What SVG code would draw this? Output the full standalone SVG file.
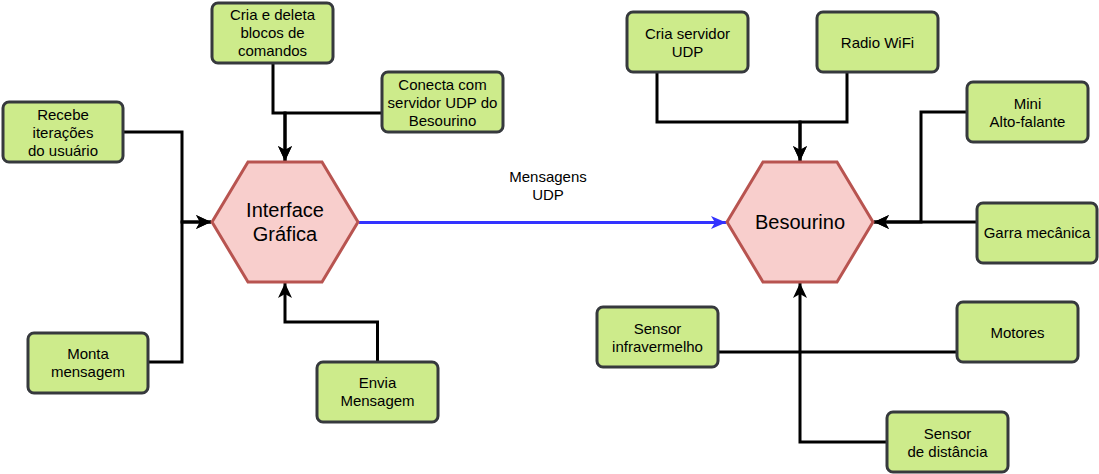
<svg xmlns="http://www.w3.org/2000/svg" width="1099" height="474" viewBox="0 0 1099 474">
<style>
.box{fill:#cdeb8b;stroke:#36393d;stroke-width:3}
.hex{fill:#f8cecc;stroke:#b85450;stroke-width:3}
.t{font-family:"Liberation Sans",Arial,sans-serif;font-size:15px;fill:#000;text-anchor:middle}
.ht{font-family:"Liberation Sans",Arial,sans-serif;font-size:20px;fill:#000;text-anchor:middle}
.c{fill:none;stroke:#000;stroke-width:3}
.cb{fill:none;stroke:#3333ff;stroke-width:3}
</style>
<defs>
<marker id="ab" markerUnits="userSpaceOnUse" markerWidth="16" markerHeight="16" viewBox="0 0 16 16" refX="15" refY="8" orient="auto">
<path d="M0,1 L15,8 L0,15 L4,8 Z" fill="#000"/>
</marker>
<marker id="abl" markerUnits="userSpaceOnUse" markerWidth="16" markerHeight="16" viewBox="0 0 16 16" refX="15" refY="8" orient="auto">
<path d="M0,1.5 L15,8 L0,14.5 L4,8 Z" fill="#3333ff"/>
</marker>
</defs>
<g id="connectors">
<path class="c" d="M273,63 V113 H285 V161" marker-end="url(#ab)"/>
<path class="c" d="M382,113 H285 V161" marker-end="url(#ab)"/>
<path class="c" d="M123,132 H182 V222 H211" marker-end="url(#ab)"/>
<path class="c" d="M148,362 H182 V222 H211" marker-end="url(#ab)"/>
<path class="c" d="M377.5,362 V322 H285 V283" marker-end="url(#ab)"/>
<path class="cb" d="M359,222.5 H726" marker-end="url(#abl)"/>
<path class="c" d="M657,73 V122 H800 V161" marker-end="url(#ab)"/>
<path class="c" d="M847,73 V122 H800 V161" marker-end="url(#ab)"/>
<path class="c" d="M967,112 H921 V222 H874" marker-end="url(#ab)"/>
<path class="c" d="M977,222 H874" marker-end="url(#ab)"/>
<path class="c" d="M887,442 H800 V283" marker-end="url(#ab)"/>
<path class="c" d="M718,352 H957"/>
<text class="t" x="548" y="182">Mensagens</text>
<text class="t" x="548" y="200">UDP</text>
</g>
<g id="interface">
<polygon class="hex" points="212,222 248,162 322,162 358,222 322,282 248,282"/>
<text class="ht" x="285" y="217">Interface</text>
<text class="ht" x="285" y="241">Gráfica</text>
</g>
<g id="besourino">
<polygon class="hex" points="727,222 763,162 837,162 873,222 837,282 763,282"/>
<text class="ht" x="800" y="229">Besourino</text>
</g>
<g id="cria-deleta">
<rect class="box" x="212" y="3" width="121" height="60" rx="6"/>
<text class="t" x="272.5" y="20">Cria e deleta</text>
<text class="t" x="272.5" y="38">blocos de</text>
<text class="t" x="272.5" y="56">comandos</text>
</g>
<g id="conecta">
<rect class="box" x="382" y="72" width="121" height="60" rx="6"/>
<text class="t" x="442.5" y="90">Conecta com</text>
<text class="t" x="442.5" y="108">servidor UDP do</text>
<text class="t" x="442.5" y="126">Besourino</text>
</g>
<g id="recebe">
<rect class="box" x="3" y="102" width="120" height="60" rx="6"/>
<text class="t" x="63" y="120">Recebe</text>
<text class="t" x="63" y="138">iterações</text>
<text class="t" x="63" y="156">do usuário</text>
</g>
<g id="monta">
<rect class="box" x="28" y="333" width="120" height="60" rx="6"/>
<text class="t" x="88" y="359">Monta</text>
<text class="t" x="88" y="377">mensagem</text>
</g>
<g id="envia">
<rect class="box" x="317" y="362" width="121" height="60" rx="6"/>
<text class="t" x="377.5" y="388">Envia</text>
<text class="t" x="377.5" y="406">Mensagem</text>
</g>
<g id="cria-servidor">
<rect class="box" x="627" y="12" width="121" height="60" rx="6"/>
<text class="t" x="687.5" y="39">Cria servidor</text>
<text class="t" x="687.5" y="57">UDP</text>
</g>
<g id="radio">
<rect class="box" x="817" y="12" width="121" height="60" rx="6"/>
<text class="t" x="877.5" y="48">Radio WiFi</text>
</g>
<g id="mini">
<rect class="box" x="967" y="82" width="121" height="60" rx="6"/>
<text class="t" x="1027.5" y="109">Mini</text>
<text class="t" x="1027.5" y="127">Alto-falante</text>
</g>
<g id="garra">
<rect class="box" x="977" y="203" width="120" height="60" rx="6"/>
<text class="t" x="1037" y="238">Garra mecânica</text>
</g>
<g id="sensor-infra">
<rect class="box" x="597" y="307" width="121" height="60" rx="6"/>
<text class="t" x="657.5" y="334">Sensor</text>
<text class="t" x="657.5" y="352">infravermelho</text>
</g>
<g id="motores">
<rect class="box" x="957" y="302" width="121" height="60" rx="6"/>
<text class="t" x="1017.5" y="338">Motores</text>
</g>
<g id="sensor-dist">
<rect class="box" x="887" y="412" width="121" height="60" rx="6"/>
<text class="t" x="947.5" y="439">Sensor</text>
<text class="t" x="947.5" y="457">de distância</text>
</g>
</svg>
